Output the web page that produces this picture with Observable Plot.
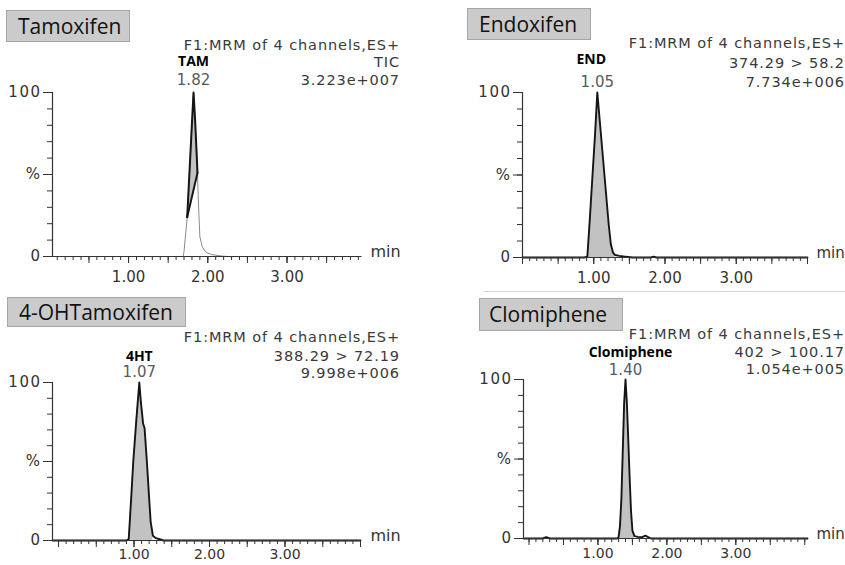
<!DOCTYPE html>
<html><head><meta charset="utf-8">
<script src="https://cdn.jsdelivr.net/npm/d3@7"></script>
<script src="https://cdn.jsdelivr.net/npm/@observablehq/plot@0.6"></script>
<style>
body{margin:0;background:#fff;}
#chart{position:relative;width:845px;height:565px;overflow:hidden;background:#fff;}
.panel{position:absolute;}
.box{position:absolute;background:#cbcbcb;border:1px solid #a6a6a6;font-family:"Open Sans";font-size:21px;color:#111;line-height:1;box-sizing:border-box;display:flex;align-items:center;white-space:nowrap;}
.hdr{position:absolute;font-family:"DejaVu Sans";font-size:14.5px;letter-spacing:0.9px;color:#3a3a3a;white-space:nowrap;text-align:right;line-height:16px;}
.divider{position:absolute;height:1px;background:#d8d8d8;}
</style></head><body><div id="chart"></div><script>
// ---------- data ----------
const compounds = ["Tamoxifen", "Endoxifen", "4-OHTamoxifen", "Clomiphene"];
const peakNames = ["TAM", "END", "4HT", "Clomiphene"];
const peakTimes = [1.82, 1.05, 1.07, 1.40];
const scanTitles = ["F1:MRM of 4 channels,ES+", "F1:MRM of 4 channels,ES+", "F1:MRM of 4 channels,ES+", "F1:MRM of 4 channels,ES+"];
const channels = ["TIC", "374.29 > 58.2", "388.29 > 72.19", "402 > 100.17"];
const intensities = ["3.223e+007", "7.734e+006", "9.998e+006", "1.054e+005"];
const xTickValues = [1, 2, 3];
const yTickValues = [0, 50, 100];
const yTickLabels = ["0", "%", "100"];
const axisUnit = "min";

// Tamoxifen (TIC)
const tamTime = [0.04, 1.66, 1.69, 1.70, 1.74, 1.78, 1.82, 1.84, 1.87, 1.88, 1.90, 1.93, 1.96, 2.00, 2.05, 2.10, 2.17, 2.25, 3.94];
const tamPct  = [0,    0,    0,    3,    24,   62,   100,  83,   51,   35,   12,   6,    3.5,  2,    1.2,  0.8,  0.3,  0,    0];
const tamIntegTime = [1.74, 1.87];
const tamIntegPct  = [24, 51];

// Endoxifen
const endTime = [0, 0.87, 0.91, 0.94, 0.98, 1.02, 1.05, 1.09, 1.13, 1.17, 1.21, 1.24, 1.27, 1.30, 1.36, 1.42, 1.48, 1.55, 1.80, 1.84, 1.88, 4];
const endPct  = [0, 0,    0.5,  20,   48,   76,   100,  80,   60,   40,   20,   8,    3,    1.5,  1,    0.6,  0.3,  0,    0,    0.5,  0,    0];
const endIntegTime = [0.87, 1.30];
const endIntegPct  = [0, 0];

// 4-OH Tamoxifen
const ohtTime = [-0.08, 0.90, 0.93, 0.96, 0.99, 1.03, 1.07, 1.09, 1.12, 1.14, 1.17, 1.20, 1.22, 1.25, 1.29, 1.34, 1.39, 4.0];
const ohtPct  = [0,     0,    1,    25,   50,   76,   100,  88,   74,   71,   50,   27,   12,   3,    1.5,  0.8,  0,    0];
const ohtIntegTime = [0.90, 1.27];
const ohtIntegPct  = [0, 0];

// Clomiphene
const cloTime = [-0.08, 0.20, 0.25, 0.30, 1.28, 1.30, 1.32, 1.34, 1.36, 1.38, 1.40, 1.42, 1.44, 1.46, 1.48, 1.50, 1.53, 1.58, 1.64, 1.69, 1.73, 1.77, 4.04];
const cloPct  = [0,     0,    0.8,  0,    0,    1,    8,    25,   55,   85,   100,  85,   62,   38,   17,   5,    1.5,  1,    0.8,  1.8,  0.8,  0,    0];
const cloIntegTime = [1.28, 1.55];
const cloIntegPct  = [0, 0];

const traces = [
  {time: tamTime, pct: tamPct, integTime: tamIntegTime, integPct: tamIntegPct},
  {time: endTime, pct: endPct, integTime: endIntegTime, integPct: endIntegPct},
  {time: ohtTime, pct: ohtPct, integTime: ohtIntegTime, integPct: ohtIntegPct},
  {time: cloTime, pct: cloPct, integTime: cloIntegTime, integPct: cloIntegPct}
];

// ---------- layout ----------
const layout = [
  {left: 0, top: 0, width: 420, height: 285, mL: 52, mR: 59, mT: 92, mB: 29, xDomain: [0.04, 3.94], light: true,
   nameDy: -31, nameDx: 0, timeDy: -12, minDx: 9, minSize: 16, xPad: 8, xSize: 15,
   box: {l: 6, t: 10, w: 124, h: 32, pad: 11}, hdrRight: 445, hdrY: [45, 62, 80]},
  {left: 420, top: 0, width: 425, height: 285, mL: 102, mR: 38, mT: 92, mB: 28, xDomain: [0, 4], light: false,
   nameDy: -33, nameDx: -6, timeDy: -10, minDx: 9, minSize: 15, xPad: 8, xSize: 15,
   box: {l: 467, t: 8, w: 124, h: 32, pad: 11}, hdrRight: 0, hdrY: [43, 63, 82]},
  {left: 0, top: 285, width: 420, height: 280, mL: 52, mR: 60, mT: 97, mB: 25, xDomain: [-0.08, 4.0], light: false,
   nameDy: -26, nameDx: 0, timeDy: -10, minDx: 10, minSize: 16, xPad: 2, xSize: 14,
   box: {l: 7, t: 297, w: 179, h: 30, pad: 11}, hdrRight: 445, hdrY: [337, 356, 373]},
  {left: 420, top: 285, width: 425, height: 280, mL: 103, mR: 38, mT: 94, mB: 27, xDomain: [-0.08, 4.04], light: false,
   nameDy: -27, nameDx: 5, timeDy: -9, minDx: 9, minSize: 15, xPad: 3, xSize: 14,
   box: {l: 479, t: 298, w: 144, h: 33, pad: 9}, hdrRight: 0, hdrY: [334, 352, 369]}
];

const chart = document.getElementById("chart");
const axisColor = "#333";
const traceColor = "#151515";

function makePanel(i) {
  const L = layout[i];
  const tr = traces[i];
  const trace = tr.time.map((t, k) => ({t, y: tr.pct[k]}));
  const [w0, w1] = tr.integTime;
  const [b0, b1] = tr.integPct;
  const inWin = trace.filter(d => d.t >= w0 - 1e-9 && d.t <= w1 + 1e-9)
    .map(d => ({t: d.t, y: d.y, b: b0 + (b1 - b0) * (d.t - w0) / (w1 - w0)}));
  const baseSeg = tr.integTime.map((t, k) => ({t, b: tr.integPct[k]}));
  const inDom = v => v >= L.xDomain[0] - 1e-9 && v <= L.xDomain[1] + 1e-9;
  const minorX = d3.range(0, 41).map(k => k / 10).filter(inDom);
  const halfX = d3.range(0, 9).map(k => k / 2).filter(inDom);
  const minorY = d3.range(0, 11).map(k => k * 10);
  const peak = [{t: peakTimes[i], y: 100}];

  const marks = [
    Plot.areaY(inWin, {x: "t", y1: "b", y2: "y", fill: "#c2c2c2"}),
    Plot.line(trace, {x: "t", y: "y", stroke: L.light ? "#8c8c8c" : traceColor, strokeWidth: L.light ? 1 : 1.9, strokeLinejoin: "round"})
  ];
  if (L.light) {
    marks.push(
      Plot.line(inWin, {x: "t", y: "y", stroke: traceColor, strokeWidth: 2, strokeLinejoin: "round"}),
      Plot.line(baseSeg, {x: "t", y: "b", stroke: traceColor, strokeWidth: 2})
    );
  }
  marks.push(
    Plot.ruleY([0], {stroke: axisColor, strokeWidth: 1.2}),
    Plot.ruleX([L.xDomain[0]], {y1: 0, y2: 100, stroke: axisColor, strokeWidth: 1.2}),
    Plot.axisX({ticks: minorX, tickSize: 4, tickFormat: () => "", label: null, stroke: axisColor}),
    Plot.axisX({ticks: halfX, tickSize: 7, tickFormat: () => "", label: null, stroke: axisColor}),
    Plot.axisX({ticks: xTickValues, tickSize: 7, tickPadding: L.xPad, tickFormat: d3.format(".2f"), label: null, stroke: axisColor, fontSize: L.xSize, fill: "#333"}),
    Plot.axisY({ticks: minorY, tickSize: 5, tickFormat: () => "", label: null, stroke: axisColor}),
    Plot.axisY({ticks: yTickValues, tickSize: 9, tickPadding: 2, tickFormat: d => yTickLabels[yTickValues.indexOf(d)], label: null, stroke: axisColor, fontSize: 15, fill: "#333"}),
    Plot.text([axisUnit], {frameAnchor: "bottom-right", textAnchor: "start", dx: L.minDx, fontSize: L.minSize, fill: "#333"}),
    Plot.text(peak, {x: "t", y: "y", text: d => d.t.toFixed(2), dy: L.timeDy, fill: "#555b66", fontSize: 15}),
    Plot.text(peak, {x: "t", y: "y", text: () => peakNames[i], dy: L.nameDy, dx: L.nameDx, fill: "#000", fontWeight: "bold", fontFamily: "Open Sans", fontSize: 14})
  );

  const svg = Plot.plot({
    width: L.width, height: L.height,
    marginLeft: L.mL, marginRight: L.mR, marginTop: L.mT, marginBottom: L.mB,
    x: {domain: L.xDomain},
    y: {domain: [0, 100]},
    style: {fontFamily: "DejaVu Sans", background: "transparent", color: "#333", maxWidth: "none", overflow: "visible"},
    marks
  });
  svg.querySelectorAll('[aria-label="y-axis tick label"] text').forEach(t => t.style.letterSpacing = "1.5px");
  const wrap = document.createElement("div");
  wrap.className = "panel";
  wrap.style.left = L.left + "px";
  wrap.style.top = L.top + "px";
  wrap.appendChild(svg);
  chart.appendChild(wrap);

  const box = document.createElement("div");
  box.className = "box";
  Object.assign(box.style, {left: L.box.l + "px", top: L.box.t + "px", width: L.box.w + "px", height: L.box.h + "px", paddingLeft: L.box.pad + "px"});
  box.textContent = compounds[i];
  chart.appendChild(box);

  [scanTitles[i], channels[i], intensities[i]].forEach((txt, k) => {
    const h = document.createElement("div");
    h.className = "hdr";
    h.style.right = L.hdrRight + "px";
    h.style.top = (L.hdrY[k] - 8) + "px";
    h.textContent = txt;
    chart.appendChild(h);
  });
}

const divider = document.createElement("div");
divider.className = "divider";
Object.assign(divider.style, {left: "483px", top: "291px", width: "362px"});
chart.appendChild(divider);

for (let i = 0; i < 4; i++) makePanel(i);
</script></body></html>
